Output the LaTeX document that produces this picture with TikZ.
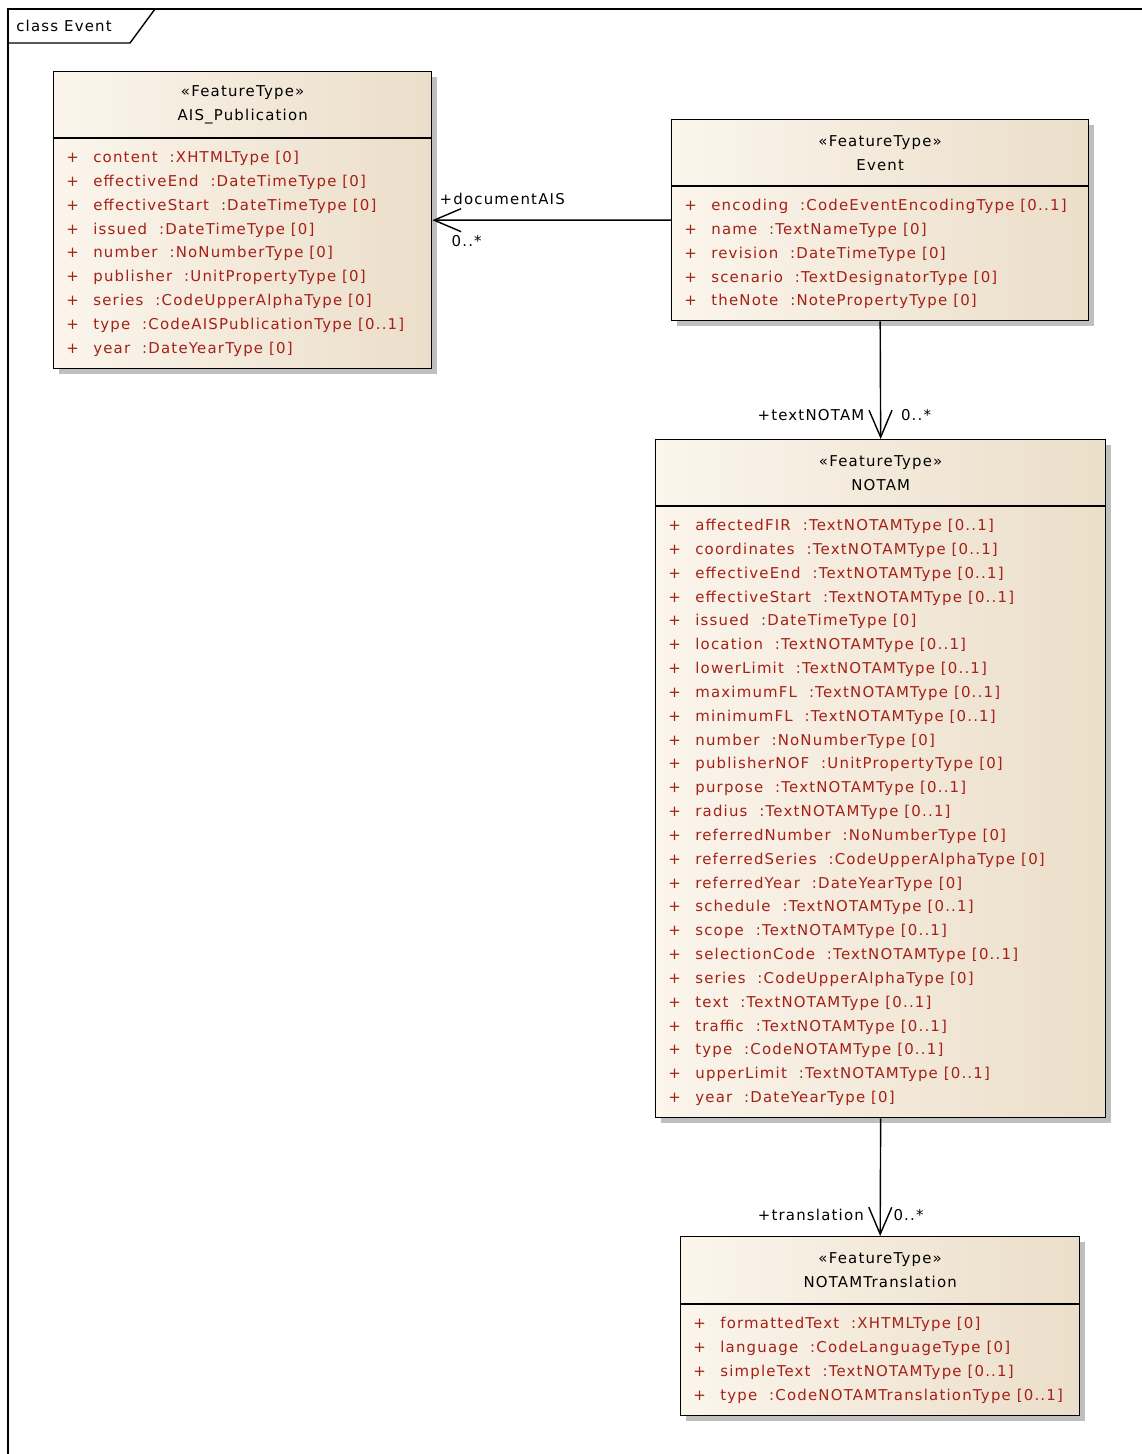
\documentclass[tikz,border=0pt]{standalone}
\usepackage{fontspec}
\setmainfont{DejaVu Sans}[LetterSpace=8]
\usetikzlibrary{positioning,arrows.meta,shadows}

\definecolor{attrred}{RGB}{165,32,22}
\definecolor{boxlight}{RGB}{251,245,236}
\definecolor{boxdark}{RGB}{235,222,201}

\newcommand{\attr}[2]{\makebox[0.54cm][l]{+}#1\hspace{0.8em}:#2}

\begin{document}
\begin{tikzpicture}[x=0.02cm,y=-0.02cm,
    classbox/.style={draw=black,line width=0.8pt,left color=boxlight,right color=boxdark,
      drop shadow={shadow xshift=0.1cm,shadow yshift=-0.1cm,fill=black!25,opacity=1},
      anchor=north west,inner sep=0pt},
    head/.style={align=center,inner sep=0pt,font=\fontsize{8.5pt}{13.6pt}\selectfont},
    attrs/.style={align=left,inner sep=0pt,anchor=north west,text=attrred,
      font=\fontsize{8.5pt}{13.56pt}\selectfont},
    lbl/.style={inner sep=0pt,font=\fontsize{8.5pt}{10pt}\selectfont},
    assoc/.style={line width=0.8pt,-{Straight Barb[length=0.54cm,width=0.46cm,line width=0.8pt]}}]

   \useasboundingbox (0,0) rectangle (1142,1454);

   % frame
   \draw[line width=0.8pt] (8,1454) -- (8,9) -- (1142,9);
   \draw[line width=0.8pt] (8,43) -- (130,43) -- (155,9);
   \node[lbl,anchor=west] (frametitle) at (16,26) {class Event};

   % classes
   \node[classbox,minimum width=7.56cm,minimum height=5.94cm] (ais) at (53,71) {};
   \node[classbox,minimum width=8.34cm,minimum height=4.02cm] (event) at (671,119) {};
   \node[classbox,minimum width=9.0cm,minimum height=13.56cm] (notam) at (655,439) {};
   \node[classbox,minimum width=7.98cm,minimum height=3.58cm] (trans) at (680,1236) {};

   \node[head] (aishead) at ([yshift=-0.68cm]ais.north) {«FeatureType»\\AIS\_Publication};
   \node[head] (eventhead) at ([yshift=-0.68cm]event.north) {«FeatureType»\\Event};
   \node[head] (notamhead) at ([yshift=-0.68cm]notam.north) {«FeatureType»\\NOTAM};
   \node[head] (transhead) at ([yshift=-0.68cm]trans.north) {«FeatureType»\\NOTAMTranslation};

   \draw[line width=0.8pt] ([yshift=-1.34cm]ais.north west) -- ([yshift=-1.34cm]ais.north east);
   \draw[line width=0.8pt] ([yshift=-1.34cm]event.north west) -- ([yshift=-1.34cm]event.north east);
   \draw[line width=0.8pt] ([yshift=-1.34cm]notam.north west) -- ([yshift=-1.34cm]notam.north east);
   \draw[line width=0.8pt] ([yshift=-1.36cm]trans.north west) -- ([yshift=-1.36cm]trans.north east);

   \node[attrs] (aisattrs) at ([xshift=0.26cm,yshift=-1.6cm]ais.north west) {%
     \attr{content}{XHTMLType [0]}\\
     \attr{effectiveEnd}{DateTimeType [0]}\\
     \attr{effectiveStart}{DateTimeType [0]}\\
     \attr{issued}{DateTimeType [0]}\\
     \attr{number}{NoNumberType [0]}\\
     \attr{publisher}{UnitPropertyType [0]}\\
     \attr{series}{CodeUpperAlphaType [0]}\\
     \attr{type}{CodeAISPublicationType [0..1]}\\
     \attr{year}{DateYearType [0]}};

   \node[attrs] (eventattrs) at ([xshift=0.26cm,yshift=-1.6cm]event.north west) {%
     \attr{encoding}{CodeEventEncodingType [0..1]}\\
     \attr{name}{TextNameType [0]}\\
     \attr{revision}{DateTimeType [0]}\\
     \attr{scenario}{TextDesignatorType [0]}\\
     \attr{theNote}{NotePropertyType [0]}};

   \node[attrs] (notamattrs) at ([xshift=0.26cm,yshift=-1.6cm]notam.north west) {%
     \attr{affectedFIR}{TextNOTAMType [0..1]}\\
     \attr{coordinates}{TextNOTAMType [0..1]}\\
     \attr{effectiveEnd}{TextNOTAMType [0..1]}\\
     \attr{effectiveStart}{TextNOTAMType [0..1]}\\
     \attr{issued}{DateTimeType [0]}\\
     \attr{location}{TextNOTAMType [0..1]}\\
     \attr{lowerLimit}{TextNOTAMType [0..1]}\\
     \attr{maximumFL}{TextNOTAMType [0..1]}\\
     \attr{minimumFL}{TextNOTAMType [0..1]}\\
     \attr{number}{NoNumberType [0]}\\
     \attr{publisherNOF}{UnitPropertyType [0]}\\
     \attr{purpose}{TextNOTAMType [0..1]}\\
     \attr{radius}{TextNOTAMType [0..1]}\\
     \attr{referredNumber}{NoNumberType [0]}\\
     \attr{referredSeries}{CodeUpperAlphaType [0]}\\
     \attr{referredYear}{DateYearType [0]}\\
     \attr{schedule}{TextNOTAMType [0..1]}\\
     \attr{scope}{TextNOTAMType [0..1]}\\
     \attr{selectionCode}{TextNOTAMType [0..1]}\\
     \attr{series}{CodeUpperAlphaType [0]}\\
     \attr{text}{TextNOTAMType [0..1]}\\
     \attr{traffic}{TextNOTAMType [0..1]}\\
     \attr{type}{CodeNOTAMType [0..1]}\\
     \attr{upperLimit}{TextNOTAMType [0..1]}\\
     \attr{year}{DateYearType [0]}};

   \node[attrs] (transattrs) at ([xshift=0.26cm,yshift=-1.62cm]trans.north west) {%
     \attr{formattedText}{XHTMLType [0]}\\
     \attr{language}{CodeLanguageType [0]}\\
     \attr{simpleText}{TextNOTAMType [0..1]}\\
     \attr{type}{CodeNOTAMTranslationType [0..1]}};

   % associations
   \draw[assoc] (event.west) -- (ais.east);
   \draw[assoc] (event.south) -- (notam.north);
   \draw[assoc] (notam.south) -- (trans.north);

   \node[lbl,anchor=south west] (docrole) at ([xshift=0.14cm,yshift=0.3cm]ais.east) {+documentAIS};
   \node[lbl,anchor=north west] (docmult) at ([xshift=0.38cm,yshift=-0.3cm]ais.east) {0..*};
   \node[lbl,anchor=south east] (textrole) at ([xshift=-0.32cm,yshift=0.36cm]notam.north) {+textNOTAM};
   \node[lbl,anchor=south west] (textmult) at ([xshift=0.4cm,yshift=0.36cm]notam.north) {0..*};
   \node[lbl,anchor=south east] (transrole) at ([xshift=-0.32cm,yshift=0.3cm]trans.north) {+translation};
   \node[lbl,anchor=south west] (transmult) at ([xshift=0.26cm,yshift=0.3cm]trans.north) {0..*};

\end{tikzpicture}
\end{document}
